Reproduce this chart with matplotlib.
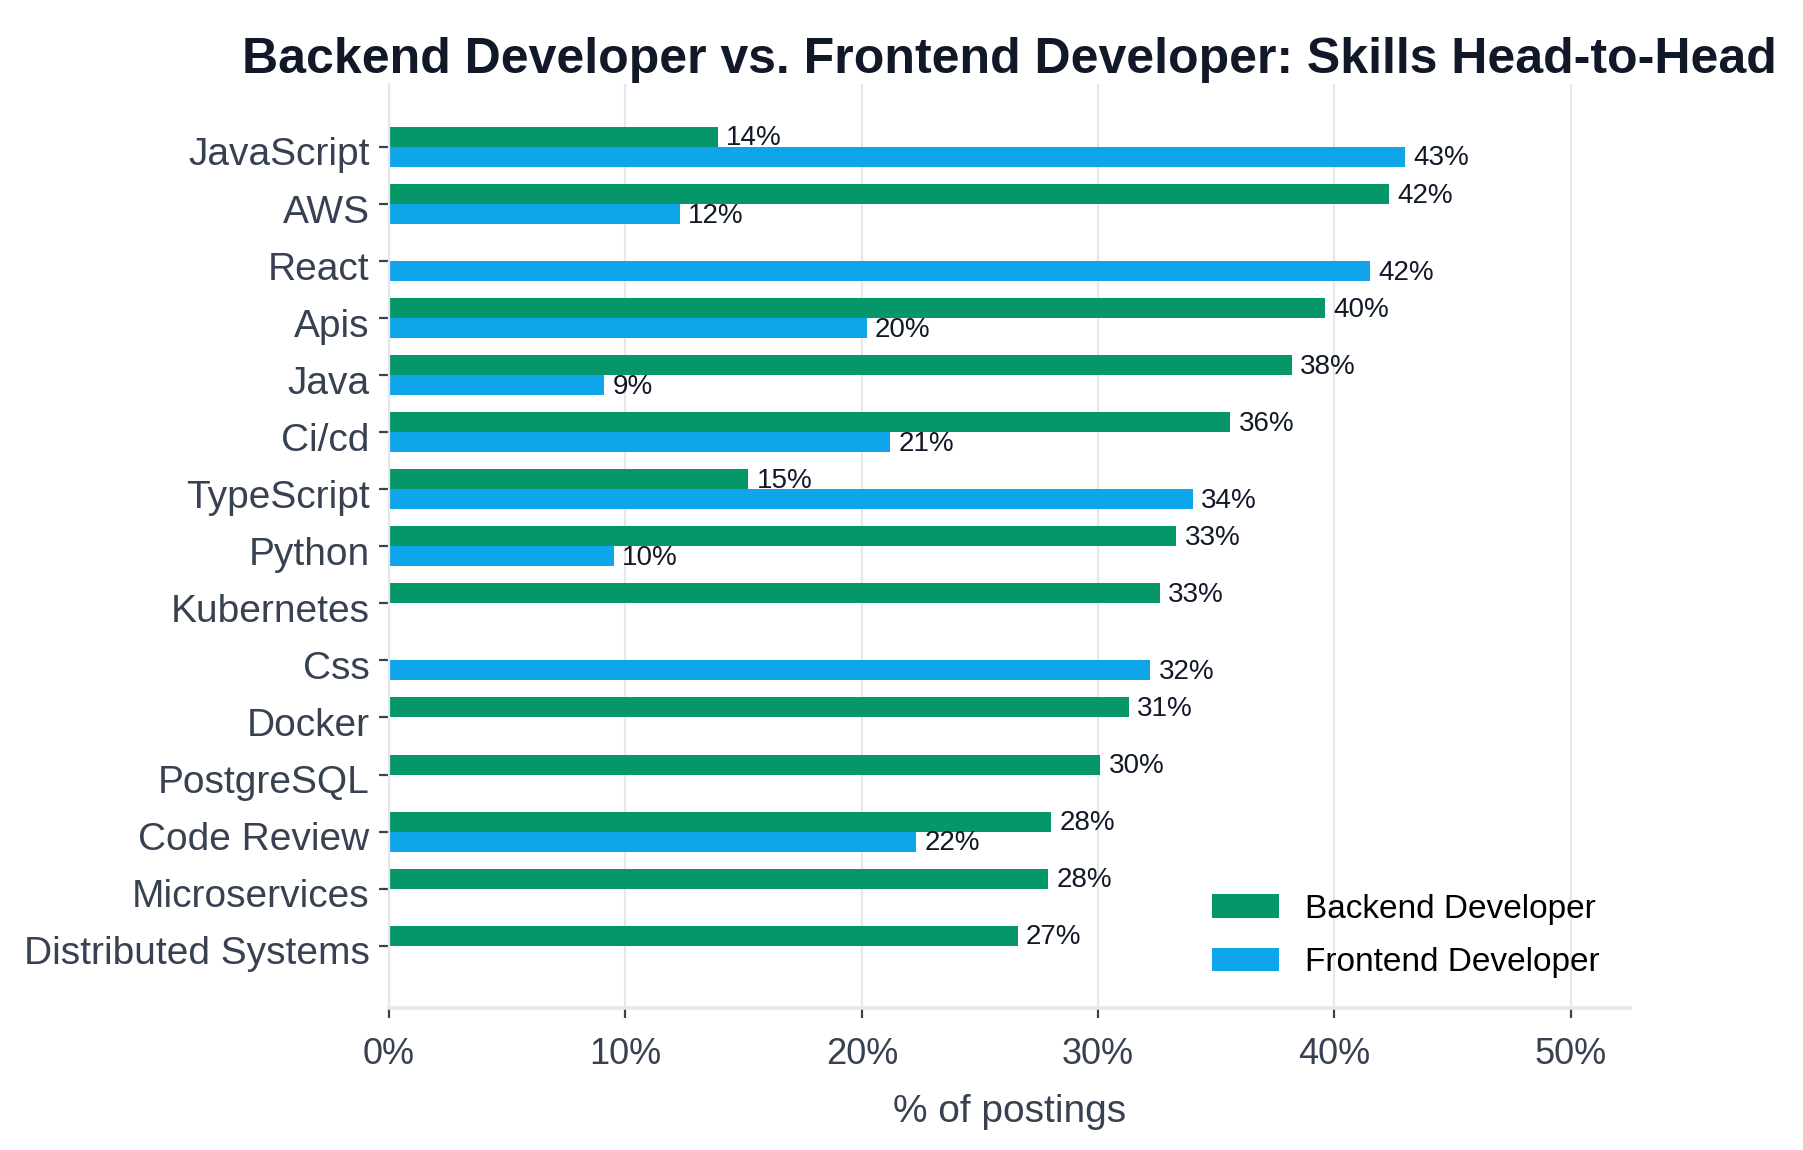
import numpy as np
import matplotlib.pyplot as plt
from matplotlib.transforms import ScaledTranslation

plt.rcParams['font.family'] = ['Liberation Sans', 'DejaVu Sans']

# Skill shares (% of postings); None = skill not listed
skills = ['JavaScript', 'AWS', 'React', 'Apis', 'Java', 'Ci/cd', 'TypeScript',
          'Python', 'Kubernetes', 'Css', 'Docker', 'PostgreSQL', 'Code Review',
          'Microservices', 'Distributed Systems']
backend = [13.9, 42.3, None, 39.6, 38.2, 35.6, 15.2,
           33.3, 32.6, None, 31.3, 30.1, 28.0, 27.9, 26.6]
frontend = [43.0, 12.3, 41.5, 20.2, 9.1, 21.2, 34.0,
            9.5, None, 32.2, None, None, 22.3, None, None]
x_ticks = [0, 10, 20, 30, 40, 50]

green = '#059669'
blue = '#0EA5E9'
text_dark = '#111827'
text_gray = '#374151'
grid_col = '#E5E7EB'

fig, ax = plt.subplots(figsize=(9.015, 5.75), dpi=200)
fig.subplots_adjust(left=0.2158, right=0.904, top=0.927, bottom=0.1235)

y = np.arange(len(skills))
h = 0.35

be = np.array([np.nan if v is None else v for v in backend])
fe = np.array([np.nan if v is None else v for v in frontend])

ax.barh(y - h / 2, np.nan_to_num(be), height=h, color=green,
        label='Backend Developer', zorder=2)
ax.barh(y + h / 2, np.nan_to_num(fe), height=h, color=blue,
        label='Frontend Developer', zorder=2)

# value labels at bar ends
for vals, offs in ((be, -h / 2), (fe, h / 2)):
    for yi, v in zip(y, vals):
        if np.isnan(v):
            continue
        ax.text(v + 0.35, yi + offs + 0.03, f'{v:.0f}%', va='center', ha='left',
                fontsize=10, color=text_dark, zorder=3)

ax.set_yticks(y)
ax.set_yticklabels(skills, fontsize=14, color=text_gray)
ax.set_ylim(len(skills) + 0.09, -1.1)

ax.set_xticks(x_ticks)
ax.set_xticklabels([f'{t}%' for t in x_ticks], fontsize=13, color=text_gray)
ax.set_xlim(0, 52.5)
ax.set_xlabel('% of postings', fontsize=14, color=text_gray, labelpad=8)

ax.grid(axis='x', color=grid_col, linewidth=0.8, zorder=0)
ax.set_axisbelow(True)
for s in ('top', 'right'):
    ax.spines[s].set_visible(False)
ax.spines['left'].set_color(grid_col)
ax.spines['left'].set_linewidth(0.8)
ax.spines['bottom'].set_color(grid_col)
ax.spines['bottom'].set_linewidth(1.3)
ax.tick_params(axis='both', colors=text_gray, length=3.5, width=0.8)
ax.tick_params(axis='x', pad=7)

# nudge category labels down a little, as in the original
shift = ScaledTranslation(0, -1.7 / 72, fig.dpi_scale_trans)
for lab in ax.get_yticklabels():
    lab.set_transform(lab.get_transform() + shift)

ax.set_title('Backend Developer vs. Frontend Developer: Skills Head-to-Head',
             fontsize=18, fontweight='bold', color=text_dark, pad=4)

ax.legend(loc='lower right', frameon=False, fontsize=12, handlelength=2.0,
          handletextpad=0.8, labelspacing=0.67)

fig.savefig('out.png', dpi=200)
